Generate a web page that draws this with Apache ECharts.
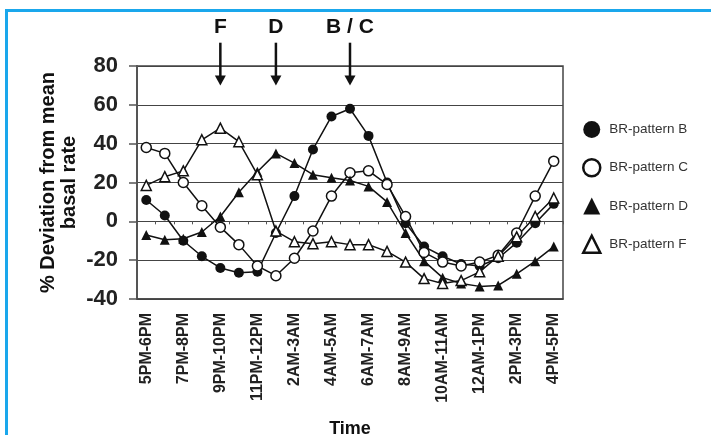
<!DOCTYPE html>
<html>
<head>
<meta charset="utf-8">
<script src="https://cdn.jsdelivr.net/npm/echarts@6/dist/echarts.min.js"></script>
<style>
  html, body { margin: 0; padding: 0; background: #fff; }
  #chart { width: 711px; height: 435px; }
  #frame {
    position: absolute; left: 5px; top: 9px; right: 0; bottom: 0;
    border-left: 3px solid #1aa7ec; border-top: 3px solid #1aa7ec;
    pointer-events: none;
  }
</style>
</head>
<body>
<div id="chart"></div>
<div id="frame"></div>
<script>
// hourly time slots (labels shown every other slot)
const hours = [
  '5PM-6PM', '6PM-7PM', '7PM-8PM', '8PM-9PM', '9PM-10PM', '10PM-11PM',
  '11PM-12PM', '12PM-1AM', '2AM-3AM', '3AM-4AM', '4AM-5AM', '5AM-6AM',
  '6AM-7AM', '7AM-8AM', '8AM-9AM', '9AM-10AM', '10AM-11AM', '11AM-12AM',
  '12AM-1PM', '1PM-2PM', '2PM-3PM', '3PM-4PM', '4PM-5PM'
];

// % deviation from mean basal rate
const patternB = [11, 3, -10, -18, -24, -26.5, -26, -6, 13, 37, 54, 58, 44, 20, -1, -13, -18, -22, -23, -19, -11, -1, 9];
const patternC = [38, 35, 20, 8, -3, -12, -23, -28, -19, -5, 13, 25, 26, 19, 2.5, -16, -21, -23, -21, -17.5, -6, 13, 31];
const patternD = [-7, -9.5, -9, -5.5, 2.5, 15, 25.5, 35, 30, 24, 22.5, 21, 18, 10, -6, -20.5, -29, -32, -33.5, -33, -27, -20.5, -13];
const patternF = [18.5, 23, 26, 42, 48, 41, 24, -5, -10.5, -11.5, -10.5, -12, -12, -15.5, -21, -29.5, -32, -30.5, -26, -18, -8, 2.5, 12];

// y axis
const yMin = -40, yMax = 80, yStep = 20;

// arrows above the plot: label + slot
const arrowMarks = [
  { label: 'F', hour: '9PM-10PM' },
  { label: 'D', hour: '12PM-1AM' },
  { label: 'B / C', hour: '5AM-6AM' }
];
const arrowLabelAt = 100, arrowTop = 92, arrowTip = 70;

const font = 'Liberation Sans';
const ink = '#111';

function lineSeries(name, values, symbol, filled) {
  return {
    name: name,
    type: 'line',
    data: values,
    symbol: symbol,
    symbolSize: 10,
    lineStyle: { color: ink, width: 1.5 },
    itemStyle: {
      color: filled ? ink : '#fff',
      borderColor: ink,
      borderWidth: filled ? 0 : 1.5
    },
    emphasis: { disabled: true },
    animation: false
  };
}

const chart = echarts.init(document.getElementById('chart'));
chart.setOption({
  animation: false,
  textStyle: { fontFamily: font },
  grid: {
    left: 137, right: 148, top: 66, bottom: 136,
    outerBoundsMode: 'none',
    containLabel: false,
    show: true, borderColor: '#444', borderWidth: 1.5
  },
  legend: {
    orient: 'vertical',
    left: 577,
    top: 116,
    itemWidth: 17,
    itemHeight: 17,
    itemGap: 20,
    selectedMode: false,
    textStyle: { fontSize: 13.5, color: '#333', padding: [0, 0, 0, 4], fontFamily: font },
    data: [
      { name: 'BR-pattern B', icon: 'circle' },
      { name: 'BR-pattern C', icon: 'circle', itemStyle: { borderWidth: 2.5 } },
      { name: 'BR-pattern D', icon: 'triangle' },
      { name: 'BR-pattern F', icon: 'triangle', itemStyle: { borderWidth: 2.5 } }
    ]
  },
  xAxis: [
    {
      type: 'category',
      data: hours,
      position: 'bottom',
      axisLine: { onZero: false, lineStyle: { color: '#444', width: 1.5 } },
      axisTick: { show: false },
      axisLabel: {
        interval: 1, rotate: 90, margin: 14,
        fontSize: 16, fontWeight: 'bold', color: '#222', fontFamily: font
      },
      splitLine: { show: false },
      name: 'Time',
      nameLocation: 'middle',
      nameGap: 121,
      nameMoveOverlap: false,
      nameTextStyle: { fontSize: 18, fontWeight: 'bold', color: ink, fontFamily: font }
    },
    {
      type: 'category',
      data: hours,
      position: 'bottom',
      axisLine: { onZero: true, lineStyle: { color: '#444', width: 1 } },
      axisTick: { show: true, interval: 0, length: 3, lineStyle: { color: '#555' } },
      axisLabel: { show: false },
      splitLine: { show: false }
    }
  ],
  yAxis: {
    type: 'value',
    min: yMin,
    max: yMax,
    interval: yStep,
    axisLine: { show: true, lineStyle: { color: '#555', width: 2 } },
    axisTick: { show: true, length: 8, lineStyle: { color: '#555', width: 1.5 } },
    axisLabel: { fontSize: 22, fontWeight: 'bold', color: '#222', margin: 19, fontFamily: font },
    splitLine: { lineStyle: { color: '#444', width: 1 } },
    name: '% Deviation from mean\nbasal rate',
    nameLocation: 'middle',
    nameRotate: 90,
    nameGap: 57,
    nameMoveOverlap: false,
    nameTextStyle: { fontSize: 20, fontWeight: 'bold', lineHeight: 21, color: ink, fontFamily: font }
  },
  series: [
    lineSeries('BR-pattern B', patternB, 'circle', true),
    lineSeries('BR-pattern C', patternC, 'circle', false),
    lineSeries('BR-pattern D', patternD, 'triangle', true),
    lineSeries('BR-pattern F', patternF, 'triangle', false)
  ]
});

// arrows, placed through the axes' own scales
const graphics = [];
arrowMarks.forEach(function (m) {
  const idx = hours.indexOf(m.hour);
  const finder = { xAxisIndex: 0, yAxisIndex: 0 };
  const pLabel = chart.convertToPixel(finder, [idx, arrowLabelAt]);
  const pTop = chart.convertToPixel(finder, [idx, arrowTop]);
  const pTip = chart.convertToPixel(finder, [idx, arrowTip]);
  const x = pTop[0];
  graphics.push({
    type: 'text', x: x, y: pLabel[1], z: 10,
    style: {
      text: m.label, fill: ink, align: 'center', verticalAlign: 'middle',
      font: 'bold 21px "' + font + '"'
    }
  });
  graphics.push({
    type: 'line', z: 10,
    shape: { x1: x, y1: pTop[1], x2: x, y2: pTip[1] - 8 },
    style: { stroke: ink, lineWidth: 2.5 }
  });
  graphics.push({
    type: 'polygon', z: 10,
    shape: { points: [[x - 5.5, pTip[1] - 10], [x + 5.5, pTip[1] - 10], [x, pTip[1]]] },
    style: { fill: ink }
  });
});
chart.setOption({ graphic: graphics });

window.addEventListener('resize', function () {
  chart.resize();
});
</script>
</body>
</html>
